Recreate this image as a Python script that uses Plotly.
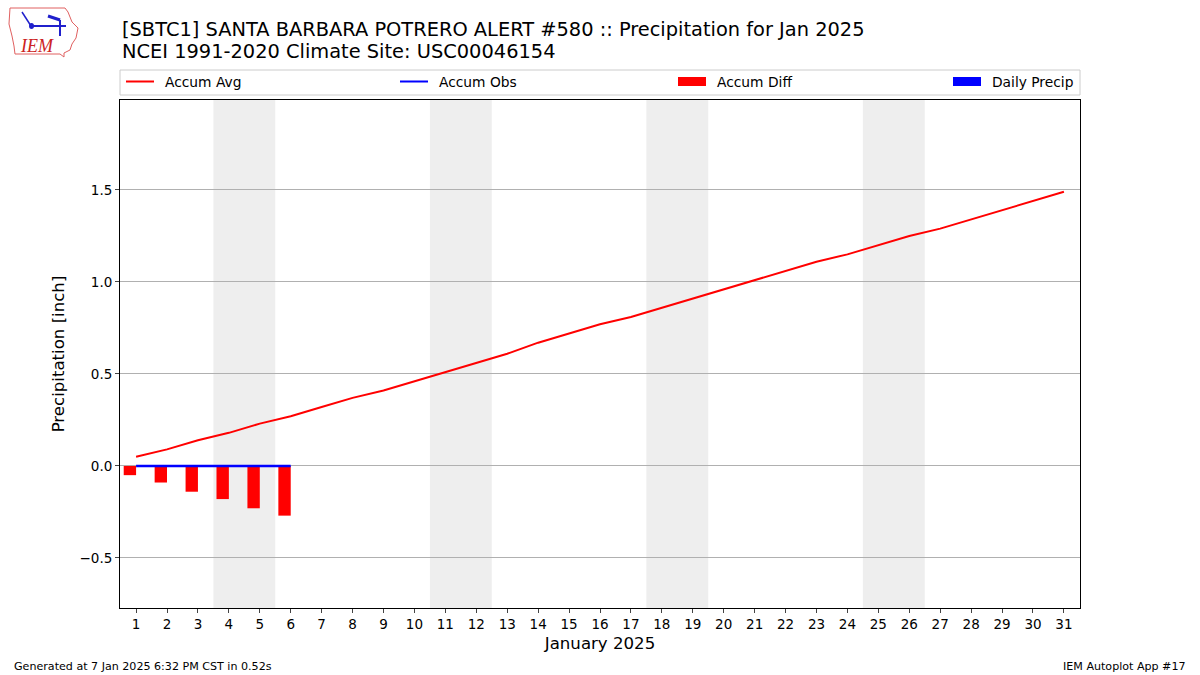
import plotly.graph_objects as go

# ---------------- data ----------------
days = list(range(1, 32))
accum_avg = [0.05, 0.09, 0.14, 0.18, 0.23, 0.27, 0.32, 0.37, 0.41, 0.46,
             0.51, 0.56, 0.61, 0.67, 0.72, 0.77, 0.81, 0.86, 0.91, 0.96,
             1.01, 1.06, 1.11, 1.15, 1.20, 1.25, 1.29, 1.34, 1.39, 1.44, 1.49]
obs_days = [1, 2, 3, 4, 5, 6]
accum_obs = [0.0, 0.0, 0.0, 0.0, 0.0, 0.0]
daily_precip = [0.0, 0.0, 0.0, 0.0, 0.0, 0.0]
accum_diff = [o - a for o, a in zip(accum_obs, accum_avg[:len(obs_days)])]
weekends = [(4, 5), (11, 12), (18, 19), (25, 26)]
ytick_vals = [-0.5, 0.0, 0.5, 1.0, 1.5]
ytick_text = ["\u22120.5", "0.0", "0.5", "1.0", "1.5"]
legend_names = ["Accum Avg", "Accum Obs", "Accum Diff", "Daily Precip"]
legend_colors = ["red", "blue", "red", "blue"]
legend_kinds = ["line", "line", "bar", "bar"]

title1 = "[SBTC1] SANTA BARBARA POTRERO ALERT #580 :: Precipitation for Jan 2025"
title2 = "NCEI 1991-2020 Climate Site: USC00046154"

FONT = "DejaVu Sans"

fig = go.Figure()
fig.add_trace(go.Scatter(x=days, y=accum_avg, mode="lines", name=legend_names[0],
                         line=dict(color="red", width=2), showlegend=False))
fig.add_trace(go.Scatter(x=obs_days, y=accum_obs, mode="lines", name=legend_names[1],
                         line=dict(color="blue", width=2.5), showlegend=False))
fig.add_trace(go.Bar(x=obs_days, y=accum_diff, name=legend_names[2], marker_color="red",
                     width=0.4, offset=-0.4, marker_line_width=0, showlegend=False))
fig.add_trace(go.Bar(x=obs_days, y=daily_precip, name=legend_names[3], marker_color="blue",
                     width=0.4, offset=0.0, marker_line_width=0, showlegend=False))


def px(xp):
    return (xp - 120) / 960.0


def py(yp):
    return (608 - yp) / 508.0


shapes = []
for a, b in weekends:
    shapes.append(dict(type="rect", xref="x", yref="paper", x0=a - 0.5, x1=b + 0.5,
                       y0=0, y1=1, fillcolor="#eeeeee", line_width=0, layer="below"))

annotations = []
# legend frame and entries (matplotlib-style expanded legend above the axes)
shapes.append(dict(type="rect", xref="paper", yref="paper", x0=0, x1=1,
                   y0=py(95), y1=py(70), line=dict(color="#cccccc", width=1),
                   fillcolor="white", layer="below"))
legend_x = [126, 400, 678, 953]
for name, color, kind, lx in zip(legend_names, legend_colors, legend_kinds, legend_x):
    if kind == "line":
        shapes.append(dict(type="line", xref="paper", yref="paper", x0=px(lx), x1=px(lx + 28),
                           y0=py(81.5), y1=py(81.5), line=dict(color=color, width=2)))
    else:
        shapes.append(dict(type="rect", xref="paper", yref="paper", x0=px(lx), x1=px(lx + 28),
                           y0=py(86), y1=py(77), fillcolor=color, line_width=0))
    annotations.append(dict(text=name, xref="paper", yref="paper", x=px(lx + 37), y=py(81.5),
                            xanchor="left", yanchor="middle", showarrow=False,
                            font=dict(family=FONT, size=13.8, color="black")))

# logo: Iowa outline
iowa = [(10, 8), (65, 8), (68, 12), (72, 22), (78, 28), (76, 38), (72, 44),
        (70, 50), (64, 53), (64, 57), (60, 54), (15, 54), (14, 46), (12, 36),
        (9, 24), (10, 8)]
path = "M " + " L ".join(f"{px(x):.5f},{py(y):.5f}" for x, y in iowa) + " Z"
shapes.append(dict(type="path", xref="paper", yref="paper", path=path,
                   line=dict(color="#e06060", width=1)))
# logo: weather vane
shapes.append(dict(type="line", xref="paper", yref="paper", x0=px(31), y0=py(26),
                   x1=px(66), y1=py(26), line=dict(color="#2020cc", width=2)))
shapes.append(dict(type="line", xref="paper", yref="paper", x0=px(22), y0=py(12),
                   x1=px(31), y1=py(26), line=dict(color="#2020cc", width=1.5)))
shapes.append(dict(type="line", xref="paper", yref="paper", x0=px(60), y0=py(20),
                   x1=px(60), y1=py(36), line=dict(color="#2020cc", width=2)))
shapes.append(dict(type="line", xref="paper", yref="paper", x0=px(48), y0=py(16),
                   x1=px(60), y1=py(20), line=dict(color="#2020cc", width=3)))
shapes.append(dict(type="circle", xref="paper", yref="paper", x0=px(29), y0=py(29),
                   x1=px(34), y1=py(23), fillcolor="#2020cc", line_width=0))

annotations += [
    dict(text=title1, xref="paper", yref="paper", x=0, y=py(16), xanchor="left",
         yanchor="top", showarrow=False, font=dict(family=FONT, size=19.4, color="black")),
    dict(text=title2, xref="paper", yref="paper", x=0, y=py(37.5), xanchor="left",
         yanchor="top", showarrow=False, font=dict(family=FONT, size=19.4, color="black")),
    dict(text="Generated at 7 Jan 2025 6:32 PM CST in 0.52s", xref="paper", yref="paper",
         x=px(12), y=py(666), xanchor="left", yanchor="middle", showarrow=False,
         font=dict(family=FONT, size=11.1, color="black")),
    dict(text="IEM Autoplot App #17", xref="paper", yref="paper",
         x=px(1188), y=py(666), xanchor="right", yanchor="middle", showarrow=False,
         font=dict(family=FONT, size=11.1, color="black")),
    dict(text="<i>IEM</i>", xref="paper", yref="paper", x=px(37), y=py(46),
         xanchor="center", yanchor="middle", showarrow=False,
         font=dict(family="Liberation Serif", size=18, color="#cc2222")),
]

fig.update_layout(
    width=1200, height=675,
    margin=dict(l=120, r=120, t=100, b=67),
    paper_bgcolor="white", plot_bgcolor="white",
    font=dict(family=FONT, size=13, color="black"),
    barmode="overlay",
    shapes=shapes, annotations=annotations,
    showlegend=False,
)
fig.update_xaxes(range=[0.48, 31.52], tickmode="array", tickvals=days,
                 ticktext=[str(d) for d in days], ticks="outside", ticklen=4,
                 showline=True, linecolor="black", linewidth=1, mirror=True,
                 showgrid=False, zeroline=False,
                 title=dict(text="January 2025", font=dict(family=FONT, size=16.6), standoff=6),
                 tickfont=dict(family=FONT, size=13.5))
fig.update_yaxes(range=[-0.772, 1.989], tickmode="array", tickvals=ytick_vals,
                 ticktext=ytick_text, ticks="outside", ticklen=4,
                 showline=True, linecolor="black", linewidth=1, mirror=True,
                 showgrid=True, gridcolor="#b0b0b0", gridwidth=1, zeroline=False,
                 title=dict(text="Precipitation [inch]", font=dict(family=FONT, size=16.6), standoff=10),
                 tickfont=dict(family=FONT, size=13.5))

fig.write_html("out.html", post_script="document.body.style.margin='0';",
               config={"displayModeBar": False})
